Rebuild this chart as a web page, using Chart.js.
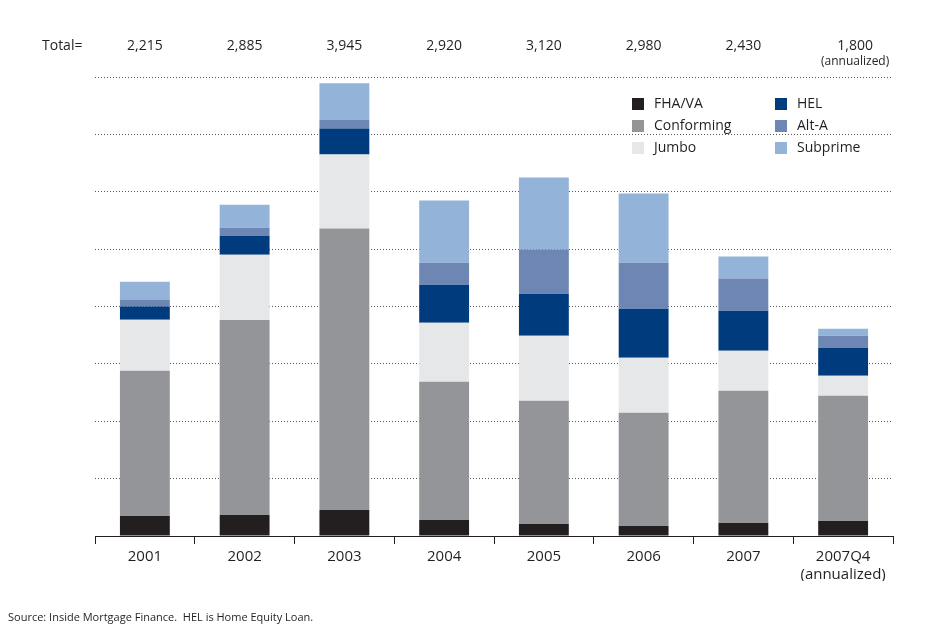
<!DOCTYPE html>
<html><head><meta charset="utf-8">
<script src="https://cdn.jsdelivr.net/npm/chart.js@4/dist/chart.umd.min.js"></script>
<style>body{margin:0;background:#fff}#wrap{width:933px;height:637px;position:relative}</style>
</head><body><div id="wrap"><canvas id="c"></canvas></div>
<script>
const categories = ['2001', '2002', '2003', '2004', '2005', '2006', '2007', ['2007Q4', '(annualized)']];
const totals = ['2,215', '2,885', '3,945', '2,920', '3,120', '2,980', '2,430', '1,800'];
const fhaVa      = [175, 183, 227, 140, 105, 87, 113, 131];
const conforming = [1265, 1700, 2452, 1204, 1073, 986, 1152, 1091];
const jumbo      = [445, 567, 646, 515, 567, 480, 349, 174];
const hel        = [115, 166, 227, 331, 367, 428, 350, 245];
const altA       = [60, 70, 78, 192, 384, 401, 279, 104];
const subprime   = [155, 200, 315, 541, 628, 603, 192, 62];

const font = '"Open Sans", "Noto Sans", sans-serif';
Chart.defaults.font.family = font;
Chart.defaults.color = '#231f20';

const series = [
  ['FHA/VA', fhaVa, '#231f20'],
  ['Conforming', conforming, '#939598'],
  ['Jumbo', jumbo, '#e6e7e8'],
  ['HEL', hel, '#003c7d'],
  ['Alt-A', altA, '#6d86b3'],
  ['Subprime', subprime, '#94b3d9']
];

const extras = {
  id: 'extras',
  afterDraw(chart) {
    const ctx = chart.ctx, x = chart.scales.x;
    ctx.save();
    ctx.fillStyle = '#231f20';
    ctx.font = '14px ' + font;
    ctx.textBaseline = 'middle';
    ctx.textAlign = 'left';
    ctx.fillText('Total=', 42, 46);
    ctx.textAlign = 'center';
    totals.forEach((t, i) => {
      const px = x.getPixelForValue(i);
      ctx.fillText(t, i === totals.length - 1 ? px + 12 : px, 46);
    });
    ctx.font = '12px ' + font;
    ctx.fillText('(annualized)', x.getPixelForValue(7) + 12, 62);
    // legend
    ctx.font = '14px ' + font;
    ctx.textAlign = 'left';
    series.forEach((s, i) => {
      const col = Math.floor(i / 3), row = i % 3;
      const lx = 632 + col * 143, ly = 104 + row * 22;
      ctx.fillStyle = s[2];
      ctx.fillRect(lx, ly - 6, 12, 12);
      ctx.fillStyle = '#231f20';
      ctx.fillText(s[0], lx + 22, ly);
    });
    ctx.font = '11px ' + font;
    ctx.fillText('Source: Inside Mortgage Finance.  HEL is Home Equity Loan.', 8, 618);
    ctx.restore();
  }
};

new Chart(document.getElementById('c'), {
  type: 'bar',
  data: {
    labels: categories,
    datasets: series.map(s => ({ label: s[0], data: s[1], backgroundColor: s[2], barPercentage: 0.5, categoryPercentage: 1 }))
  },
  options: {
    responsive: true,
    maintainAspectRatio: false,
    animation: false,
    layout: { padding: { left: 95, right: 40, top: 77, bottom: 56 } },
    plugins: { legend: { display: false }, tooltip: { enabled: false } },
    scales: {
      x: {
        stacked: true,
        afterFit(s) { s.height = 45; },
        grid: { offset: true, drawOnChartArea: false, tickLength: 8, color: '#231f20' },
        border: { display: true, color: '#231f20', width: 1 },
        ticks: { font: { size: 15 }, padding: 4, maxRotation: 0 }
      },
      y: {
        stacked: true,
        min: 0, max: 4000,
        afterFit(s) { s.width = 0; },
        ticks: { display: false, stepSize: 500 },
        grid: { color: '#555', drawTicks: false, lineWidth: 1 },
        border: { display: false, dash: [1, 2] }
      }
    }
  },
  plugins: [extras]
});
</script></body></html>
